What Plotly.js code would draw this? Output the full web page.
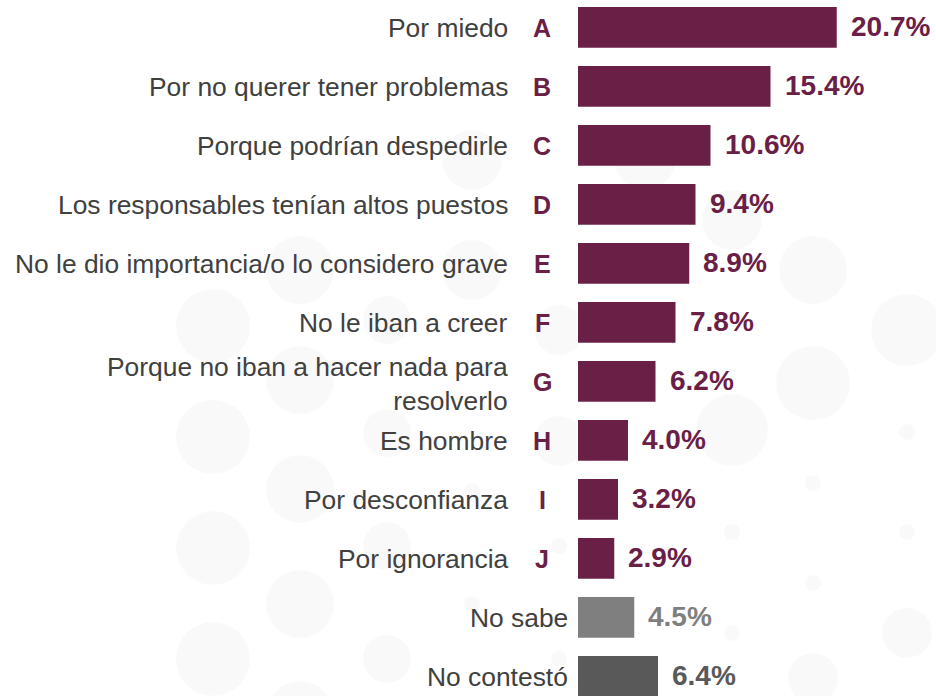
<!DOCTYPE html>
<html>
<head>
<meta charset="utf-8">
<script src="https://cdn.plot.ly/plotly-3.0.1.min.js"></script>
<style>
  html, body { margin: 0; padding: 0; background: #ffffff; }
  #chart { width: 936px; height: 696px; }
</style>
</head>
<body>
<div id="chart"></div>
<script>
// ---- data ----
const categories = [
  "Por miedo",
  "Por no querer tener problemas",
  "Porque podrían despedirle",
  "Los responsables tenían altos puestos",
  "No le dio importancia/o lo considero grave",
  "No le iban a creer",
  "Porque no iban a hacer nada para<br>resolverlo",
  "Es hombre",
  "Por desconfianza",
  "Por ignorancia",
  "No sabe",
  "No contestó"
];
const letters = ["A", "B", "C", "D", "E", "F", "G", "H", "I", "J", "", ""];
const values = [20.7, 15.4, 10.6, 9.4, 8.9, 7.8, 6.2, 4.0, 3.2, 2.9, 4.5, 6.4];
const valueLabels = ["20.7%", "15.4%", "10.6%", "9.4%", "8.9%", "7.8%", "6.2%", "4.0%", "3.2%", "2.9%", "4.5%", "6.4%"];

// ---- styles ----
const MAROON = "#6A2046";
const barColors = categories.map((c, i) => i < 10 ? MAROON : (i === 10 ? "#7F7F7F" : "#595959"));
const FONT = "Liberation Sans, Arial, sans-serif";

const trace = {
  type: "bar",
  orientation: "h",
  x: values,
  y: categories,
  width: 0.69,
  marker: { color: barColors, line: { width: 0 } },
  hoverinfo: "skip"
};

const annotations = [];
categories.forEach((c, i) => {
  const hasLetter = letters[i] !== "";
  const multi = c.indexOf("<br>") >= 0;
  annotations.push({
    x: 0, y: c, xref: "x", yref: "y",
    text: c, showarrow: false,
    xanchor: "right", yanchor: "middle", align: "right",
    xshift: hasLetter ? -68 : -8,
    yshift: multi ? -3 : -1,
    font: { family: FONT, size: 26.4, color: "#404040" }
  });
  if (hasLetter) {
    annotations.push({
      x: 0, y: c, xref: "x", yref: "y",
      text: "<b>" + letters[i] + "</b>", showarrow: false,
      xanchor: "center", yanchor: "middle",
      xshift: -36, yshift: -1,
      font: { family: FONT, size: 25, color: MAROON }
    });
  }
  annotations.push({
    x: values[i], y: c, xref: "x", yref: "y",
    text: "<b>" + valueLabels[i] + "</b>", showarrow: false,
    xanchor: "left", yanchor: "middle",
    xshift: 12, yshift: 1,
    font: { family: FONT, size: 28, color: barColors[i] }
  });
});

// faint decorative background circles (pixel centre x, centre y, radius)
const circ = [
  [213, 437, 37], [213, 548, 37], [213, 659, 37],
  [300, 489, 34], [300, 604, 34], [300, 715, 34],
  [387, 433, 24], [387, 546, 24], [387, 659, 24],
  [472, 491, 8], [472, 604, 8],
  [559, 441, 25], [559, 546, 8], [559, 659, 8],
  [732, 430, 36], [732, 532, 8], [732, 633, 8],
  [813, 383, 37], [813, 483, 8], [813, 583, 8], [813, 678, 25],
  [907, 432, 8], [907, 532, 8], [907, 633, 25],
  [213, 326, 37], [300, 270, 34], [300, 380, 34],
  [387, 320, 24], [472, 270, 30], [472, 160, 30],
  [559, 330, 25], [645, 160, 30], [732, 220, 30], [813, 270, 34],
  [907, 330, 36]
];
const W = 936, H = 696;
const shapes = circ.map(([cx, cy, r]) => ({
  type: "circle", xref: "paper", yref: "paper", layer: "below",
  x0: (cx - r - 578) / (W - 578), x1: (cx + r - 578) / (W - 578),
  y0: 1 - (cy + r) / H, y1: 1 - (cy - r) / H,
  fillcolor: "rgba(0,0,0,0.022)", line: { width: 0 }
}));

const layout = {
  width: W, height: H,
  margin: { l: 578, r: 0, t: 0, b: 0, pad: 0 },
  paper_bgcolor: "#ffffff",
  plot_bgcolor: "rgba(0,0,0,0)",
  showlegend: false,
  xaxis: { range: [0, 28.64], visible: false, fixedrange: true },
  yaxis: { type: "category", range: [11.334, -0.463], visible: false, fixedrange: true },
  annotations: annotations,
  shapes: shapes,
  font: { family: FONT }
};

Plotly.newPlot("chart", [trace], layout, { displayModeBar: false, staticPlot: true });
</script>
</body>
</html>
